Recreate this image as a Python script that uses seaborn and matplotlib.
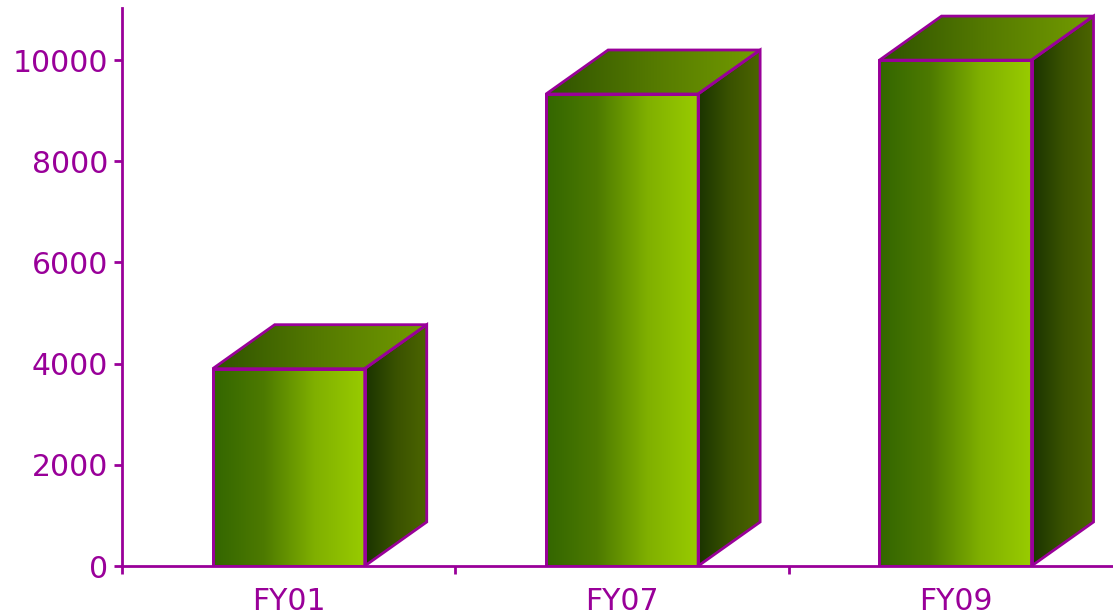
import numpy as np
import matplotlib
matplotlib.use("Agg")
import matplotlib.pyplot as plt
import seaborn as sns
from matplotlib.patches import Polygon
from matplotlib.colors import LinearSegmentedColormap

categories = ["FY01", "FY07", "FY09"]
values = [3900, 9330, 10000]
yticks = [0, 2000, 4000, 6000, 8000, 10000]

sns.set_theme(style="white")
plt.rcParams['font.family'] = ['DejaVu Sans']

W, H = 1113, 612
purple = "#990099"
lw = 2.0
fig = plt.figure(figsize=(W / 100, H / 100), dpi=100)
ax = fig.add_axes([122 / W, 46 / H, (W - 122) / W, 558 / H])

sns.barplot(x=categories, y=values, width=0.456, ax=ax, color="#99cc00",
            saturation=1, edgecolor=purple, linewidth=lw, zorder=3)

xlim = (-0.5, -0.5 + (W - 122) / 333.4)
ylim = (0, 11030)

dx, dy = 0.186, 870

cm_front = LinearSegmentedColormap.from_list("f", ["#336600", "#4d7a00", "#80b000", "#99cc00"])
cm_top = LinearSegmentedColormap.from_list("t", ["#2e5200", "#557a00", "#739c00"])
cm_side = LinearSegmentedColormap.from_list("s", ["#1a3300", "#3a5200", "#4d6600"])
grad = np.linspace(0, 1, 256).reshape(1, -1)

bars = list(ax.patches)
for b in bars:
    x0 = b.get_x()
    w = b.get_width()
    h = b.get_height()
    x1 = x0 + w
    b.set_facecolor("none")
    faces = [
        ([(x0, 0), (x1, 0), (x1, h), (x0, h)], cm_front, (x0, x1, 0, h)),
        ([(x0, h), (x1, h), (x1 + dx, h + dy), (x0 + dx, h + dy)], cm_top, (x0, x1 + dx, h, h + dy)),
        ([(x1, 0), (x1 + dx, dy), (x1 + dx, h + dy), (x1, h)], cm_side, (x1, x1 + dx, 0, h + dy)),
    ]
    for pts, cm, ext in faces:
        poly = Polygon(pts, closed=True, facecolor="none", edgecolor=purple,
                       linewidth=lw, joinstyle="miter", zorder=4)
        ax.add_patch(poly)
        im = ax.imshow(grad, extent=ext, aspect="auto", cmap=cm, zorder=2,
                       interpolation="bilinear")
        im.set_clip_path(poly)

for s in ["top", "right"]:
    ax.spines[s].set_visible(False)
for s in ["left", "bottom"]:
    ax.spines[s].set_color(purple)
    ax.spines[s].set_linewidth(lw)
    ax.spines[s].set_zorder(5)

ax.set_yticks(yticks)
ax.set_yticklabels([str(v) for v in yticks])
ax.tick_params(axis="y", which="major", direction="out", length=5.8, width=lw,
               color=purple, labelcolor=purple, labelsize=21.5, pad=4.3, left=True)

ax.set_xticks([-0.5, 0.5, 1.5])
ax.set_xticklabels([])
ax.set_xticks([0, 1, 2], minor=True)
ax.set_xticklabels(categories, minor=True)
ax.tick_params(axis="x", which="major", direction="out", length=5.8, width=lw,
               color=purple, bottom=True)
ax.tick_params(axis="x", which="minor", length=0, labelcolor=purple,
               labelsize=21.5, pad=15, bottom=True)
ax.set_xlabel("")
ax.set_ylabel("")
ax.grid(False)
ax.set_facecolor("white")

ax.set_xlim(*xlim)
ax.set_ylim(*ylim)
ax.set_aspect("auto")

fig.savefig("out.png", dpi=100, facecolor="white")
